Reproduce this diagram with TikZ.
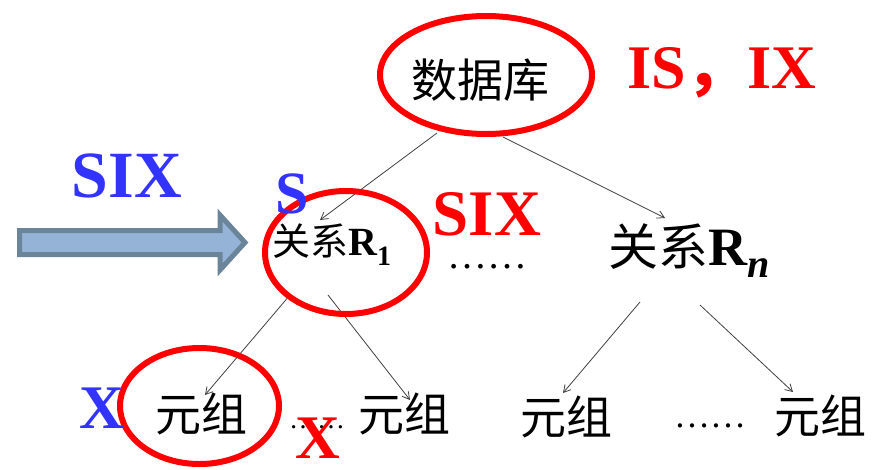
\documentclass[tikz,border=0pt]{standalone}
\usepackage{fontspec}
\usepackage{xcolor}
\setmainfont{Liberation Serif}
\newfontfamily\cjk{Noto Sans CJK SC}
\usetikzlibrary{shapes.geometric,arrows.meta,calc}

\definecolor{lockred}{HTML}{FF0000}
\definecolor{lockblue}{HTML}{3333FF}
\definecolor{arrowfill}{HTML}{95B3D7}
\definecolor{arrowedge}{HTML}{6A8599}
\definecolor{treeline}{HTML}{404040}

\newcommand{\sz}[1]{\fontsize{#1}{#1}\selectfont}

\begin{document}
\begin{tikzpicture}[x=1pt, y=-1pt,
    item/.style={inner sep=0, anchor=base, font=\cjk},
    lock/.style={inner sep=0, anchor=base, font=\bfseries},
    ring/.style={draw=lockred, line width=6pt, ellipse, inner sep=0},
    tree/.style={draw=treeline, line width=0.8pt, -{Straight Barb[length=7pt,width=8pt]}},
    bigarrow/.style={fill=arrowfill, draw=arrowedge, line width=5pt, line join=miter}]
            \useasboundingbox (0,0) rectangle (885,469);
            \node[item] (db) at (480,97) {\sz{46}数据库};
            \node[item, anchor=base west] (r1) at (272,255) {\sz{38}关系{\rmfamily\bfseries\sz{40}R\raisebox{-10pt}{\sz{28}1}}};
            \node[item] (dots1) at (487,268) {\rmfamily\sz{40}……};
            \node[item, anchor=base west] (rn) at (608,265) {\sz{50}关系{\rmfamily\bfseries\sz{54}R\raisebox{-12pt}{\sz{40}\itshape n}}};
            \node[item] (t1) at (201,431) {\sz{46}元组};
            \node[item] (dots2) at (317,428) {\rmfamily\sz{28}……};
            \node[item] (t2) at (404,431) {\sz{46}元组};
            \node[item] (t3) at (566,434) {\sz{46}元组};
            \node[item] (dots3) at (710,427) {\rmfamily\sz{36}……};
            \node[item] (t4) at (820,433) {\sz{46}元组};
            \draw[tree] ($(db.base)+(-43,36)$) -- ($(r1.base west)+(48,-35)$);
            \draw[tree] ($(db.base)+(23,40)$) -- ($(rn.base west)+(57,-47)$);
            \draw[tree] ($(r1.base west)+(18,40)$) -- ($(t1.base)+(4,-36)$);
            \draw[tree] ($(r1.base west)+(56,40)$) -- ($(t2.base)+(6,-31)$);
            \draw[tree] ($(rn.base west)+(32,37)$) -- ($(t3.base)+(-3,-41)$);
            \draw[tree] ($(rn.base west)+(92,40)$) -- ($(t4.base)+(-27,-41)$);
            % red rings
            \node[ring, minimum width=212pt, minimum height=118pt] (dbring) at (486,75) {};
            \node[ring, minimum width=162pt, minimum height=123pt] (r1ring) at (346,252.5) {};
            \node[ring, minimum width=159pt, minimum height=116pt] (t1ring) at (199.5,406) {};
            % lock labels
            \node[lock, anchor=base west, text=lockred] (dblock) at (627,88) {\sz{62}IS{\cjk ，}IX};
            \node[lock, text=lockred] (r1lock) at (487,235) {\sz{65}SIX};
            \node[lock, text=lockblue] (r1s) at (292,213) {\sz{60}S};
            \node[lock, text=lockblue] (reqlock) at (127,197) {\sz{66}SIX};
            \node[lock, text=lockblue] (t1lock) at (102,428) {\sz{62}X};
            \node[lock, text=lockred] (t2lock) at (318,458) {\sz{62}X};
            \draw[bigarrow] (19.5,230.5) -- (220,230.5) -- (220,215) -- (245,242.5) -- (220,270) -- (220,254.5) -- (19.5,254.5) -- cycle;
        \end{tikzpicture}
\end{document}
